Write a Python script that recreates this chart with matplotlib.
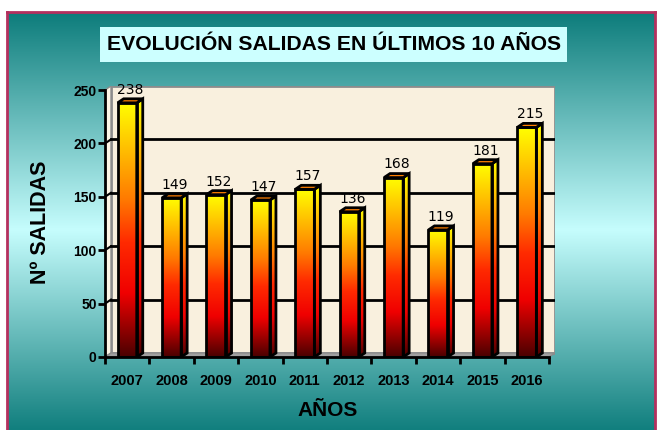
import numpy as np
import matplotlib
matplotlib.use("Agg")
import matplotlib.pyplot as plt
from matplotlib.colors import LinearSegmentedColormap
from matplotlib.patches import Polygon, Rectangle

years = ["2007", "2008", "2009", "2010", "2011", "2012", "2013", "2014", "2015", "2016"]
salidas = [238, 149, 152, 147, 157, 136, 168, 119, 181, 215]
yticks = [0, 50, 100, 150, 200, 250]

title = "EVOLUCIÓN SALIDAS EN ÚLTIMOS 10 AÑOS"
ylabel = "Nº SALIDAS"
xlabel = "AÑOS"

W, H = 657, 430
fig = plt.figure(figsize=(W / 100, H / 100), dpi=100)
fig.patch.set_facecolor("white")

# ---- background panel with teal gradient and magenta frame ----
bg = fig.add_axes([0, 0, 1, 1])
bg.set_xlim(0, W)
bg.set_ylim(H, 0)
bg.axis("off")
teal = LinearSegmentedColormap.from_list(
    "teal", [(0.0, "#0e7d7c"), (0.52, "#c6fdfd"), (1.0, "#117f7e")])
grad = np.linspace(0, 1, 256).reshape(-1, 1)
bg.imshow(grad, cmap=teal, extent=(8, 655, H, 13), aspect="auto", zorder=0)
bg.plot([7, 7], [12, H], color="#b4305e", lw=2, zorder=2)
bg.plot([655, 655], [12, H], color="#b4305e", lw=2, zorder=2)
bg.plot([7, 655], [12, 12], color="#b4305e", lw=2, zorder=2)
bg.add_patch(Rectangle((100, 27), 467, 35, facecolor="#ccffff", edgecolor="none", zorder=1))
t = bg.text(334, 45, title, ha="center", va="center", fontsize=15.2,
            fontweight="bold", family="Liberation Sans", color="black", zorder=3)
bg.text(40, 222, ylabel, ha="center", va="center", rotation=90, fontsize=15.5,
        fontweight="bold", family="Liberation Sans", color="black")
bg.text(328, 410, xlabel, ha="center", va="center", fontsize=15,
        fontweight="bold", family="Liberation Sans", color="black")

# ---- main plot with pseudo-3D walls and bars ----
px_x = 44.4
px_y = 266 / 250
dx = 6 / px_x
dy = 4 / px_y
left, right, bottom, top = 105, 555, 357, 86
ax = fig.add_axes([left / W, (H - bottom) / H, (right - left) / W, (bottom - top) / H])
ax.set_facecolor("none")
n = len(years)
x0, x1 = -0.5, n - 0.5

# back wall, side wall and floor
ax.add_patch(Polygon([(x0 + dx, dy), (x1 + dx, dy), (x1 + dx, 250 + dy), (x0 + dx, 250 + dy)],
                     closed=True, facecolor="#f9f0de", edgecolor="#8c8c8c", lw=2, zorder=1))
ax.add_patch(Polygon([(x0, 0), (x0 + dx, dy), (x0 + dx, 250 + dy), (x0, 250)],
                     closed=True, facecolor="#fdf6e6", edgecolor="#8c8c8c", lw=1, zorder=1))
ax.add_patch(Polygon([(x0, 0), (x1, 0), (x1 + dx, dy), (x0 + dx, dy)],
                     closed=True, facecolor="#a0a0a0", edgecolor="#8c8c8c", lw=1, zorder=1))
for v in yticks[1:-1]:
    ax.plot([x0 + dx, x1 + dx], [v + dy, v + dy], color="black", lw=2, zorder=2)
    ax.plot([x0, x0 + dx], [v, v + dy], color="black", lw=1.5, zorder=2)

fire = LinearSegmentedColormap.from_list(
    "fire", [(0.0, "#4a0000"), (0.25, "#f00000"), (0.45, "#ff2a00"),
             (0.62, "#ff7a00"), (1.0, "#ffff00")])
bw = 0.43
for i, v in enumerate(salidas):
    a, b = i - bw / 2, i + bw / 2
    front = Rectangle((a, 0), bw, v, facecolor="none", edgecolor="black", lw=2, zorder=5)
    side = Polygon([(b, 0), (b + dx, dy), (b + dx, v + dy), (b, v)], closed=True,
                   facecolor="none", edgecolor="black", lw=2, zorder=5)
    topf = Polygon([(a, v), (b, v), (b + dx, v + dy), (a + dx, v + dy)], closed=True,
                   facecolor="#ff7f00", edgecolor="black", lw=2, zorder=5)
    ax.add_patch(front)
    ax.add_patch(side)
    ax.add_patch(topf)
    im = ax.imshow(grad[::-1], cmap=fire, extent=(a, b, 0, v), aspect="auto",
                   zorder=4, interpolation="bilinear")
    im.set_clip_path(front)
    im2 = ax.imshow(grad[::-1], cmap=fire, extent=(b, b + dx, 0, v + dy), aspect="auto",
                    zorder=4, interpolation="bilinear")
    im2.set_clip_path(side)
    ax.text(i + dx / 2, v + dy + 2, str(v), ha="center", va="bottom", fontsize=10,
            family="DejaVu Sans", color="black", zorder=6)

ax.set_xlim(x0, x1 + dx)
ax.set_ylim(0, 250 + dy)
for s in ["top", "right"]:
    ax.spines[s].set_visible(False)
ax.spines["left"].set_bounds(0, 250)
ax.spines["bottom"].set_bounds(x0, x1)
ax.spines["left"].set_linewidth(2)
ax.spines["bottom"].set_linewidth(2)
ax.spines["left"].set_zorder(7)
ax.spines["bottom"].set_zorder(7)
ax.set_yticks(yticks)
ax.set_yticklabels([str(t) for t in yticks], fontsize=10, fontweight="bold", family="Liberation Sans")
ax.tick_params(axis="y", direction="out", length=5, width=2, pad=1)
ax.set_xticks(np.arange(n + 1) - 0.5)
ax.set_xticklabels([])
ax.tick_params(axis="x", which="major", direction="out", length=5, width=2)
ax.set_xticks(np.arange(n), minor=True)
ax.set_xticklabels(years, minor=True, fontsize=10.5, fontweight="bold", family="Liberation Sans")
ax.tick_params(axis="x", which="minor", length=0, pad=12)

fig.savefig("out.png", dpi=100)
